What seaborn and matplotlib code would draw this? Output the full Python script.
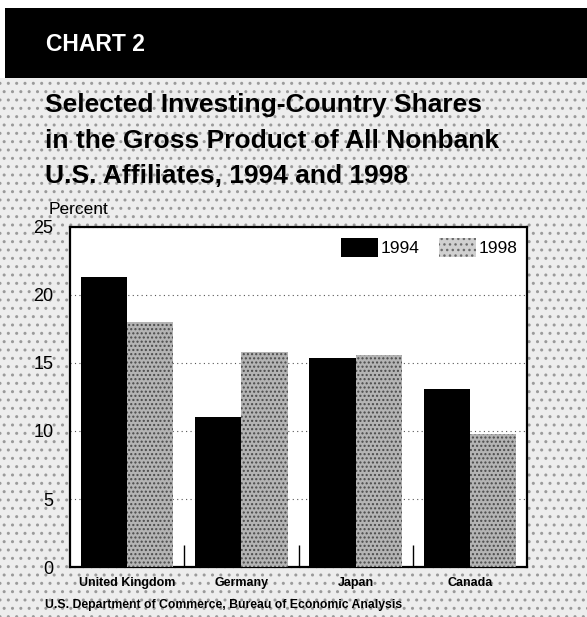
import numpy as np
import pandas as pd
import matplotlib.pyplot as plt
import matplotlib.patches as mpatches
import seaborn as sns

countries = ['United Kingdom', 'Germany', 'Japan', 'Canada']
share_1994 = [21.3, 11.0, 15.4, 13.1]
share_1998 = [18.0, 15.8, 15.6, 9.8]
years = ['1994', '1998']
y_ticks = [0, 5, 10, 15, 20, 25]


def build_frame():
    rows = []
    for year, vals in zip(years, [share_1994, share_1998]):
        for c, v in zip(countries, vals):
            rows.append({'Country': c, 'Year': year, 'Share': v})
    return pd.DataFrame(rows)


sns.set_theme(style='white')
plt.rcParams['font.family'] = ['Liberation Sans', 'DejaVu Sans']
plt.rcParams['text.color'] = 'black'
plt.rcParams['xtick.color'] = 'black'
plt.rcParams['ytick.color'] = 'black'

fig = plt.figure(figsize=(5.87, 6.17), dpi=100)
fig.patch.set_facecolor('white')

# speckled grey page and black header band
bg = mpatches.Rectangle((0, 0), 1, 1 - 78 / 617, transform=fig.transFigure,
                        facecolor='#ededed', edgecolor='#9a9a9a', hatch='..',
                        linewidth=0, zorder=-2)
fig.patches.append(bg)
band = mpatches.Rectangle((5 / 587, 1 - 78 / 617), 1, 70 / 617, transform=fig.transFigure,
                          facecolor='black', edgecolor='none', zorder=-1)
fig.patches.append(band)

fig.text(46 / 587, 1 - 51 / 617, 'CHART 2', color='white', fontsize=16.5,
         fontweight='bold', va='baseline', ha='left')
title_lines = ['Selected Investing-Country Shares',
               'in the Gross Product of All Nonbank',
               'U.S. Affiliates, 1994 and 1998']
for line, base in zip(title_lines, [112, 148, 183]):
    fig.text(45 / 587, 1 - base / 617, line, fontsize=19, fontweight='bold',
             va='baseline', ha='left', color='black')

fig.text(49 / 587, 1 - 214 / 617, 'Percent', fontsize=12.5, va='baseline', ha='left',
         color='black')

ax = fig.add_axes([70 / 587, 1 - 567 / 617, 457 / 587, 340 / 617])
ax.set_facecolor('white')

df = build_frame()
sns.barplot(data=df, x='Country', y='Share', hue='Year', ax=ax,
            palette={'1994': 'black', '1998': '#b4b4b4'},
            width=0.81, gap=0, saturation=1, legend=False, linewidth=0, zorder=3)

n = len(countries)
for i, p in enumerate(ax.patches[:2 * n]):
    if i >= n:
        p.set_hatch('....')
        p.set_edgecolor('#4a4a4a')
        p.set_linewidth(0)

ax.set_xlim(-0.5, n - 0.5)
ax.set_ylim(0, 25)
ax.set_yticks(y_ticks)
ax.set_yticklabels([str(t) for t in y_ticks])
ax.set_xlabel('')
ax.set_ylabel('')
ax.yaxis.grid(True, color='#555555', linestyle=(0, (1, 3)), linewidth=0.8)
ax.set_axisbelow(True)

ax.tick_params(axis='y', length=0, pad=12, labelsize=13, labelcolor='black')
ax.tick_params(axis='x', which='major', length=0, pad=7, labelsize=9, labelcolor='black')
for lab in ax.get_xticklabels():
    lab.set_fontweight('bold')
ax.set_xticks([i + 0.5 for i in range(n - 1)], minor=True)
ax.tick_params(axis='x', which='minor', direction='in', length=16, width=1.0,
               color='black', bottom=True)

for s in ax.spines.values():
    s.set_visible(True)
    s.set_color('black')
    s.set_linewidth(1.6)

handles = [mpatches.Patch(facecolor='black', edgecolor='none', label='1994'),
           mpatches.Patch(facecolor='#d0d0d0', edgecolor='#6a6a6a', hatch='...',
                          linewidth=0, label='1998')]
leg = ax.legend(handles=handles, ncol=2, loc='upper right', bbox_to_anchor=(0.98, 0.968),
                frameon=False, fontsize=12.5, handlelength=2.1, handleheight=1.3,
                handletextpad=0.2, columnspacing=1.1, borderpad=0, borderaxespad=0)
for t in leg.get_texts():
    t.set_color('black')

fig.text(45 / 587, 1 - 605 / 617, 'U.S. Department of Commerce, Bureau of Economic Analysis',
         fontsize=8.8, fontweight='bold', va='center', ha='left', color='black')

fig.savefig('out.png', dpi=100, facecolor=fig.get_facecolor())
